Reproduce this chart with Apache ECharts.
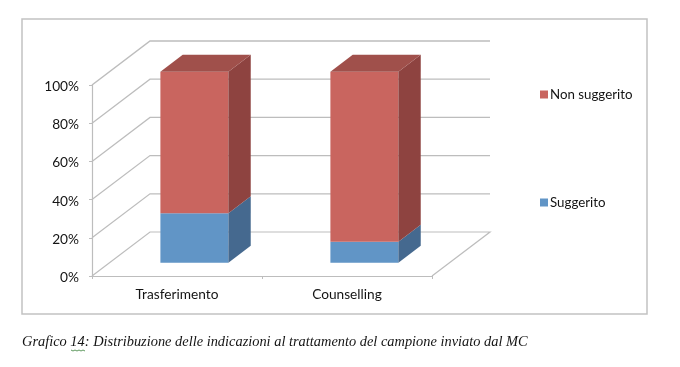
<!DOCTYPE html>
<html>
<head>
<meta charset="utf-8">
<style>html,body{margin:0;padding:0;background:#fff}#c{width:680px;height:367px}</style>
<script src="https://cdn.jsdelivr.net/npm/echarts@6/dist/echarts.min.js"></script>
</head>
<body>
<div id="c"></div>
<script>
var categories = ['Trasferimento', 'Counselling'];
var suggerito = [26, 11];
var nonSuggerito = [74, 89];
var yTicks = [0, 20, 40, 60, 80, 100];
var caption = 'Grafico 14: Distribuzione delle indicazioni al trattamento del campione inviato dal MC';

var DX = 58, DY = 44;            // floor depth on screen
var gridColor = '#bdbdbd';

function bar(front, side, top) {
  return function (params, api) {
    var c = api.value(0), a = api.value(1), b = api.value(2);
    var band = api.size([1, 0])[0], w = band * 0.4;
    var f = 0.3, d = 0.385;
    var ox = DX * f, oy = DY * f, sx = DX * d, sy = DY * d;
    var p0 = api.coord([c, a]), p1 = api.coord([c, b]);
    var l = p0[0] - w / 2 + ox, r = l + w, y0 = p0[1] - oy, y1 = p1[1] - oy;
    var kids = [
      { type: 'polygon', shape: { points: [[l, y0], [r, y0], [r, y1], [l, y1]] }, style: { fill: front } },
      { type: 'polygon', shape: { points: [[r, y0], [r + sx, y0 - sy], [r + sx, y1 - sy], [r, y1]] }, style: { fill: side } }
    ];
    if (b >= 100) {
      kids.push({ type: 'polygon', shape: { points: [[l, y1], [r, y1], [r + sx, y1 - sy], [l + sx, y1 - sy]] }, style: { fill: top } });
    }
    return { type: 'group', children: kids };
  };
}

function wall(params, api) {
  var v = api.value(0);
  var band = api.size([1, 0])[0];
  var a = api.coord([0, v]), e = api.coord([categories.length - 1, v]);
  var ax = a[0] - band / 2, ex = e[0] + band / 2, y = a[1];
  var pts = [[ax, y], [ax + DX, y - DY], [ex + DX, y - DY]];
  if (v === 0) pts.push([ex, y]);
  return { type: 'polyline', shape: { points: pts }, style: { fill: 'none', stroke: gridColor, lineWidth: v === 100 ? 1.5 : 1.2 } };
}

var chart = echarts.init(document.getElementById('c'), null, { renderer: 'canvas' });
var fontLabel = 'Lato, Carlito, sans-serif';
chart.setOption({
  animation: false,
  backgroundColor: '#fff',
  grid: { left: 92, top: 85, width: 340, height: 191 },
  xAxis: {
    type: 'category', data: categories,
    axisLine: { lineStyle: { color: gridColor, width: 1.2 } },
    axisTick: { show: true, length: 3, lineStyle: { color: gridColor } },
    axisLabel: { color: '#141414', fontFamily: fontLabel, fontSize: 13.7, margin: 12 }
  },
  yAxis: {
    type: 'value', min: 0, max: 100, interval: 20,
    axisLine: { show: true, lineStyle: { color: gridColor, width: 1.2 } },
    axisTick: { show: true, length: 3, lineStyle: { color: gridColor } },
    splitLine: { show: false },
    axisLabel: { color: '#141414', fontFamily: fontLabel, fontSize: 13.7, margin: 13, verticalAlign: 'top', lineHeight: 3,
      formatter: function (v) { return v + '%'; } }
  },
  legend: [
    { data: ['Non suggerito'], left: 535, top: 83, orient: 'vertical', icon: 'rect', itemWidth: 8, itemHeight: 8, itemGap: 0,
      textStyle: { color: '#141414', fontFamily: fontLabel, fontSize: 13.3, padding: [0, 0, 0, -3] } },
    { data: ['Suggerito'], left: 535, top: 191, orient: 'vertical', icon: 'rect', itemWidth: 8, itemHeight: 8, itemGap: 0,
      textStyle: { color: '#141414', fontFamily: fontLabel, fontSize: 13.3, padding: [0, 0, 0, -3] } }
  ],
  series: [
    { type: 'custom', name: 'walls', z: 1, silent: true, renderItem: wall,
      encode: { y: 0 }, data: yTicks.map(function (t) { return [t]; }) },
    { type: 'custom', name: 'Suggerito', z: 3, silent: true,
      itemStyle: { color: '#6195c6' },
      renderItem: bar('#6195c6', '#45698f', '#55809f'),
      encode: { x: 0, y: [1, 2] },
      data: categories.map(function (c, i) { return [i, 0, suggerito[i]]; }) },
    { type: 'custom', name: 'Non suggerito', z: 3, silent: true,
      itemStyle: { color: '#c9655f' },
      renderItem: bar('#c9655f', '#8e4340', '#a0504b'),
      encode: { x: 0, y: [1, 2] },
      data: categories.map(function (c, i) { return [i, suggerito[i], suggerito[i] + nonSuggerito[i]]; }) }
  ],
  graphic: [
    { type: 'rect', silent: true, z: 0, shape: { x: 22, y: 19, width: 625, height: 295 },
      style: { fill: 'none', stroke: '#c2c2c2', lineWidth: 1.5 } },
    { type: 'text', silent: true, x: 22, y: 335,
      style: { text: caption, fill: '#141414', font: 'italic 14.4px "Liberation Serif", serif' } },
    { type: 'polyline', silent: true,
      shape: { points: [[71,350],[73,351],[75,350],[77,351],[79,350],[81,351],[83,350],[85,351]] },
      style: { fill: 'none', stroke: '#5f9a5f', lineWidth: 1 } }
  ]
});
</script>
</body>
</html>
